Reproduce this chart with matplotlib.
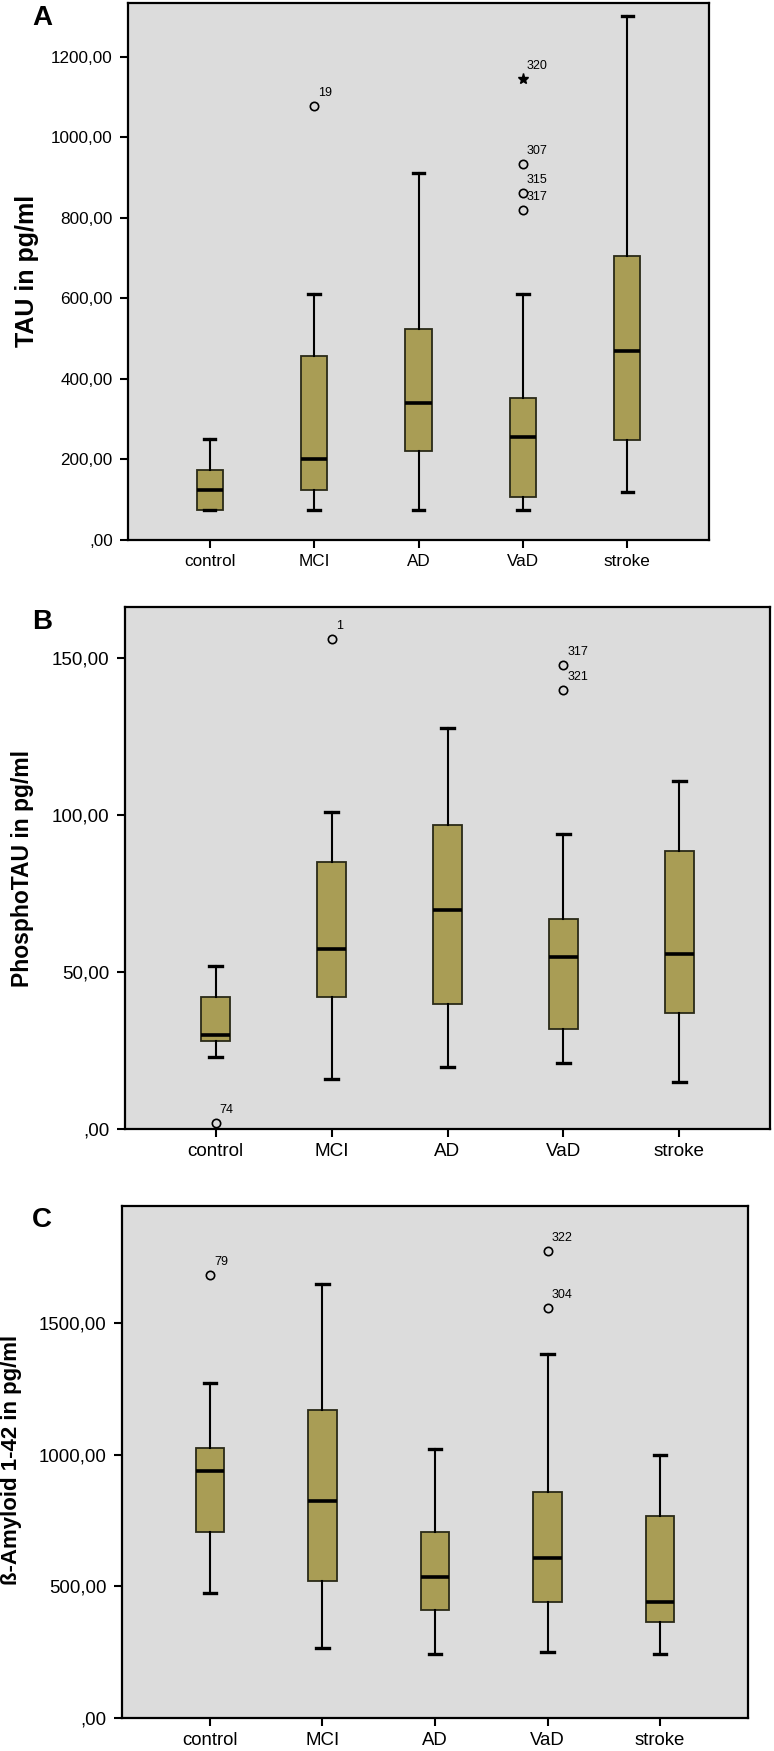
import numpy as np
import matplotlib
matplotlib.use('Agg')
import matplotlib.pyplot as plt
from matplotlib.ticker import FixedLocator, FuncFormatter

plt.rcParams['font.family'] = ['Liberation Sans', 'DejaVu Sans']

groups = ['control', 'MCI', 'AD', 'VaD', 'stroke']

# Panel A: TAU
tau_whislo = [74, 75, 75, 75, 120]
tau_q1 = [74, 125, 220, 107, 248]
tau_med = [125, 200, 340, 257, 469]
tau_q3 = [175, 457, 523, 352, 706]
tau_whishi = [252, 611, 911, 611, 1302]
tau_out = [[], [1079], [], [935, 863, 819], []]
tau_out_ids = [[], ['19'], [], ['307', '315', '317'], []]
tau_ext = [[], [], [], [1144], []]
tau_ext_ids = [[], [], [], ['320'], []]

# Panel B: PhosphoTAU
ptau_whislo = [22.9, 16.0, 19.9, 21.0, 15.0]
ptau_q1 = [27.9, 41.9, 39.9, 31.8, 36.9]
ptau_med = [29.9, 57.4, 69.9, 54.9, 55.9]
ptau_q3 = [42.1, 85.0, 96.9, 67.0, 88.5]
ptau_whishi = [51.8, 101.0, 127.9, 93.9, 111.0]
ptau_out = [[1.9], [156.0], [], [147.9, 139.9], []]
ptau_out_ids = [['74'], ['1'], [], ['317', '321'], []]

# Panel C: beta-amyloid 1-42
abeta_whislo = [474, 267, 243, 251, 242]
abeta_q1 = [707, 520, 411, 441, 366]
abeta_med = [940, 825, 537, 607, 441]
abeta_q3 = [1028, 1172, 707, 859, 766]
abeta_whishi = [1274, 1648, 1024, 1383, 1001]
abeta_out = [[1684], [], [], [1774, 1558], []]
abeta_out_ids = [['79'], [], [], ['322', '304'], []]

W, H = 774, 1751
BOX_COLOR = '#a99d55'
BG_COLOR = '#dcdcdc'


def spss_fmt(v, pos=None):
    s = f"{v:.2f}".replace('.', ',')
    if s.startswith('0,'):
        s = s[1:]
    return s


def px_axes(fig, left, top, right, bottom):
    return fig.add_axes([left / W, 1 - bottom / H, (right - left) / W, (bottom - top) / H])


def draw_panel(ax, whislo, q1, med, q3, whishi, out, out_ids, ylim, yticks, fs,
               ext=None, ext_ids=None):
    stats = []
    for i in range(len(groups)):
        stats.append(dict(whislo=whislo[i], q1=q1[i], med=med[i], q3=q3[i],
                          whishi=whishi[i], fliers=out[i], label=groups[i]))
    pos = np.arange(1, len(groups) + 1)
    ax.bxp(stats, positions=pos, widths=0.25, patch_artist=True, capwidths=0.11,
           boxprops=dict(facecolor=BOX_COLOR, edgecolor='#2a2a18', linewidth=1.3),
           medianprops=dict(color='black', linewidth=2.6),
           whiskerprops=dict(color='black', linewidth=1.5),
           capprops=dict(color='black', linewidth=2.4),
           flierprops=dict(marker='o', markerfacecolor='none', markeredgecolor='black',
                           markersize=6, markeredgewidth=1.2))
    for i in range(len(groups)):
        for v, lab in zip(out[i], out_ids[i]):
            ax.annotate(lab, (pos[i], v), xytext=(4, 13), textcoords='offset pixels',
                        fontsize=9, ha='left', va='center')
    if ext is not None:
        for i in range(len(groups)):
            for v, lab in zip(ext[i], ext_ids[i]):
                ax.plot(pos[i], v, marker='*', color='black', markersize=8, linestyle='none')
                ax.annotate(lab, (pos[i], v), xytext=(4, 13), textcoords='offset pixels',
                            fontsize=9, ha='left', va='center')

    ax.set_facecolor(BG_COLOR)
    ax.set_xlim(0.218, 5.782)
    ax.set_ylim(*ylim)
    ax.yaxis.set_major_locator(FixedLocator(yticks))
    ax.yaxis.set_major_formatter(FuncFormatter(spss_fmt))
    ax.set_xticks(pos)
    ax.set_xticklabels(groups)
    ax.tick_params(axis='both', direction='out', length=6, width=1.5, labelsize=fs,
                   colors='black')
    ax.tick_params(axis='y', pad=5)
    ax.tick_params(axis='x', pad=4)
    for sp in ax.spines.values():
        sp.set_linewidth(1.6)
        sp.set_color('black')


fig = plt.figure(figsize=(W / 100, H / 100), dpi=100)
fig.patch.set_facecolor('white')

# Panel A
axA = px_axes(fig, 128, 3, 709, 540)
draw_panel(axA, tau_whislo, tau_q1, tau_med, tau_q3, tau_whishi, tau_out, tau_out_ids,
           (0, 1334), [0, 200, 400, 600, 800, 1000, 1200], 12.3,
           ext=tau_ext, ext_ids=tau_ext_ids)
fig.text(27 / W, 1 - 271 / H, 'TAU in pg/ml', rotation=90, fontsize=18,
         fontweight='bold', ha='center', va='center')
fig.text(32 / W, 1 - 18 / H, 'A', fontsize=20, fontweight='bold', ha='left', va='center')

# Panel B
axB = px_axes(fig, 125, 607, 770, 1129)
draw_panel(axB, ptau_whislo, ptau_q1, ptau_med, ptau_q3, ptau_whishi, ptau_out, ptau_out_ids,
           (0, 166.3), [0, 50, 100, 150], 13.6)
fig.text(23 / W, 1 - 868 / H, 'PhosphoTAU in pg/ml', rotation=90, fontsize=16.5,
         fontweight='bold', ha='center', va='center')
fig.text(32 / W, 1 - 622 / H, 'B', fontsize=20, fontweight='bold', ha='left', va='center')

# Panel C
axC = px_axes(fig, 122, 1206, 748, 1718)
draw_panel(axC, abeta_whislo, abeta_q1, abeta_med, abeta_q3, abeta_whishi, abeta_out,
           abeta_out_ids, (0, 1946), [0, 500, 1000, 1500], 13.4)
fig.text(12 / W, 1 - 1460 / H, '\u00df-Amyloid 1-42 in pg/ml', rotation=90, fontsize=16,
         fontweight='bold', ha='center', va='center')
fig.text(32 / W, 1 - 1220 / H, 'C', fontsize=20, fontweight='bold', ha='left', va='center')

fig.savefig('out.png', dpi=100, facecolor='white')
